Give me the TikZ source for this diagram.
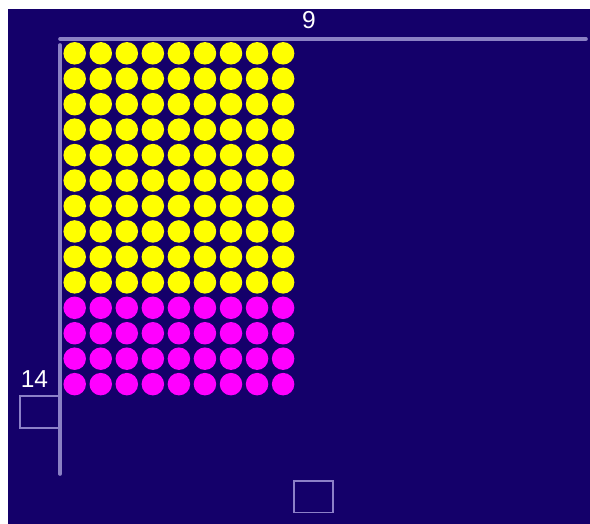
\documentclass[tikz,border=0pt]{standalone}
\usepackage{fontspec}
\setmainfont{Liberation Sans}
\definecolor{bg}{HTML}{14006A}
\definecolor{axis}{HTML}{8A80C4}
\definecolor{boxc}{HTML}{8C80C8}
\definecolor{yel}{HTML}{FFFF00}
\definecolor{mag}{HTML}{FF00FF}
\tikzset{
  axisline/.style={draw=axis, line width=3.6pt, line cap=round},
  ansbox/.style={draw=boxc, line width=1.3pt},
  lbl/.style={text=white, font=\fontsize{24.5}{26}\selectfont, inner sep=0pt},
  dotY/.style={circle, fill=yel, minimum size=22.5pt, inner sep=0pt},
  dotM/.style={circle, fill=mag, minimum size=22.5pt, inner sep=0pt},
}
\begin{document}
\begin{tikzpicture}[x=1pt,y=-1pt]
\useasboundingbox (0,0) rectangle (590,524);
\fill[white] (0,0) rectangle (590,524);
\fill[bg] (8,9) rectangle (590,524);
\coordinate (h0) at (60,39);
\coordinate (h1) at (586,39);
\coordinate (v0) at (60,45);
\coordinate (v1) at (60,474);
\draw[axisline] (h0) -- (h1);
\draw[axisline] (v0) -- (v1);
\foreach \r in {0,...,13}{
  \foreach \c in {0,...,8}{
    \pgfmathsetmacro{\xx}{74.7+26.05*\c}
    \pgfmathsetmacro{\yy}{53.3+25.45*\r}
    \ifnum\r<10
      \node[dotY] (d-\r-\c) at (\xx,\yy) {};
    \else
      \node[dotM] (d-\r-\c) at (\xx,\yy) {};
    \fi
  }
}
\node[lbl] (nine) at (309,20) {9};
\node[lbl] (fourteen) at (34.5,378.8) {14};
\draw[ansbox] (20,396) rectangle (59,428);
\draw[ansbox] (294,481) rectangle (333,512.5);
\end{tikzpicture}
\end{document}
